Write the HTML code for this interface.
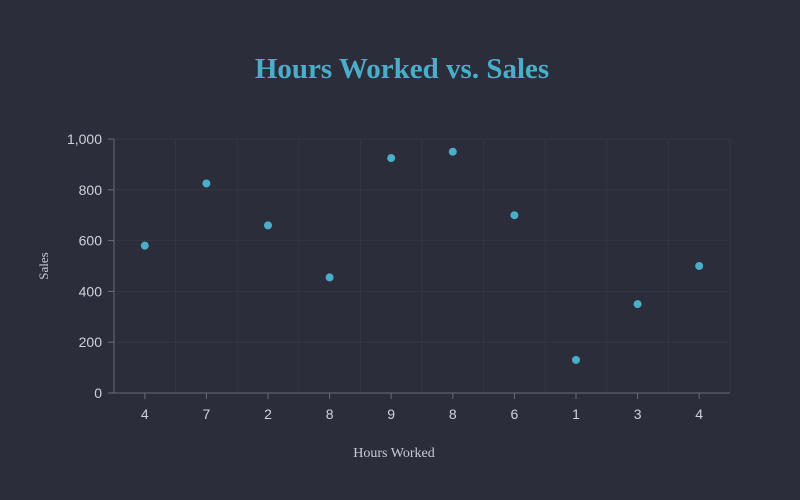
<!DOCTYPE html>
<html><head><meta charset="utf-8"><style>
html,body{margin:0;padding:0;background:#2b2d3a;}
svg{display:block;}
</style></head><body>
<svg id="chart" width="800" height="500">
<rect width="800" height="500" fill="#2b2d3a"/>
<text x="402" y="78" text-anchor="middle" font-family="Liberation Serif, serif" font-size="29" font-weight="bold" fill="#4aaecb">Hours Worked vs. Sales</text>
<g id="grid"></g>
<g id="axes"></g>
<g id="points"></g>
<text x="394" y="457" text-anchor="middle" font-family="Liberation Serif, serif" font-size="14" fill="#c8cad4">Hours Worked</text>
<text transform="translate(48,266) rotate(-90)" text-anchor="middle" font-family="Liberation Serif, serif" font-size="13" fill="#c8cad4">Sales</text>
</svg>
<script>
const categories = ["4","7","2","8","9","8","6","1","3","4"];
const sales = [580, 825, 660, 455, 925, 950, 700, 130, 350, 500];
const yTicks = [0, 200, 400, 600, 800, 1000];
const yTickLabels = ["0","200","400","600","800","1,000"];
const NS = "http://www.w3.org/2000/svg";
const L = 114, R = 730, T = 139, B = 393;
const band = (R - L) / categories.length;
const xScale = i => L + band * (i + 0.5);
const yScale = v => B - (v / 1000) * (B - T);
function mk(tag, attrs, parent){const e=document.createElementNS(NS,tag);for(const k in attrs)e.setAttribute(k,attrs[k]);parent.appendChild(e);return e;}
const grid = document.getElementById('grid'), axes = document.getElementById('axes'), pts = document.getElementById('points');
yTicks.forEach((t,i)=>{
  const y = yScale(t);
  if (t > 0) {
    const g = mk('line',{x1:L,x2:R,y1:y,y2:y,stroke:'#343644','stroke-width':1},grid);
    
    
  }
  const tk = mk('line',{x1:L-6,x2:L,y1:y,y2:y,stroke:'#6a6c78'},axes);
  
  
  const lb = mk('text',{x:L-12,y:y+5,'text-anchor':'end','font-family':'Liberation Sans, sans-serif','font-size':14,fill:'#d0d2da'},axes);
  lb.textContent = yTickLabels[i];
  
  
});
for (let i=1;i<=categories.length;i++){
  const x = L + band*i;
  const g = mk('line',{x1:x,x2:x,y1:T,y2:B,stroke:'#343644'},grid);
  
  
}
categories.forEach((c,i)=>{
  const x = xScale(i);
  const tk = mk('line',{x1:x,x2:x,y1:B,y2:B+6,stroke:'#6a6c78'},axes);
  
  
  const lb = mk('text',{x:x,y:B+26,'text-anchor':'middle','font-family':'Liberation Sans, sans-serif','font-size':14,fill:'#d0d2da'},axes);
  lb.textContent = c;
  
  
});
const ya = mk('line',{x1:L,x2:L,y1:T,y2:B,stroke:'#6a6c78'},axes);


const xa = mk('line',{x1:L,x2:R,y1:B,y2:B,stroke:'#6a6c78'},axes);


sales.forEach((v,i)=>{
  const p = mk('circle',{cx:xScale(i),cy:yScale(v),r:4,fill:'#4aaecb'},pts);
  
  
});
</script>
</body></html>
